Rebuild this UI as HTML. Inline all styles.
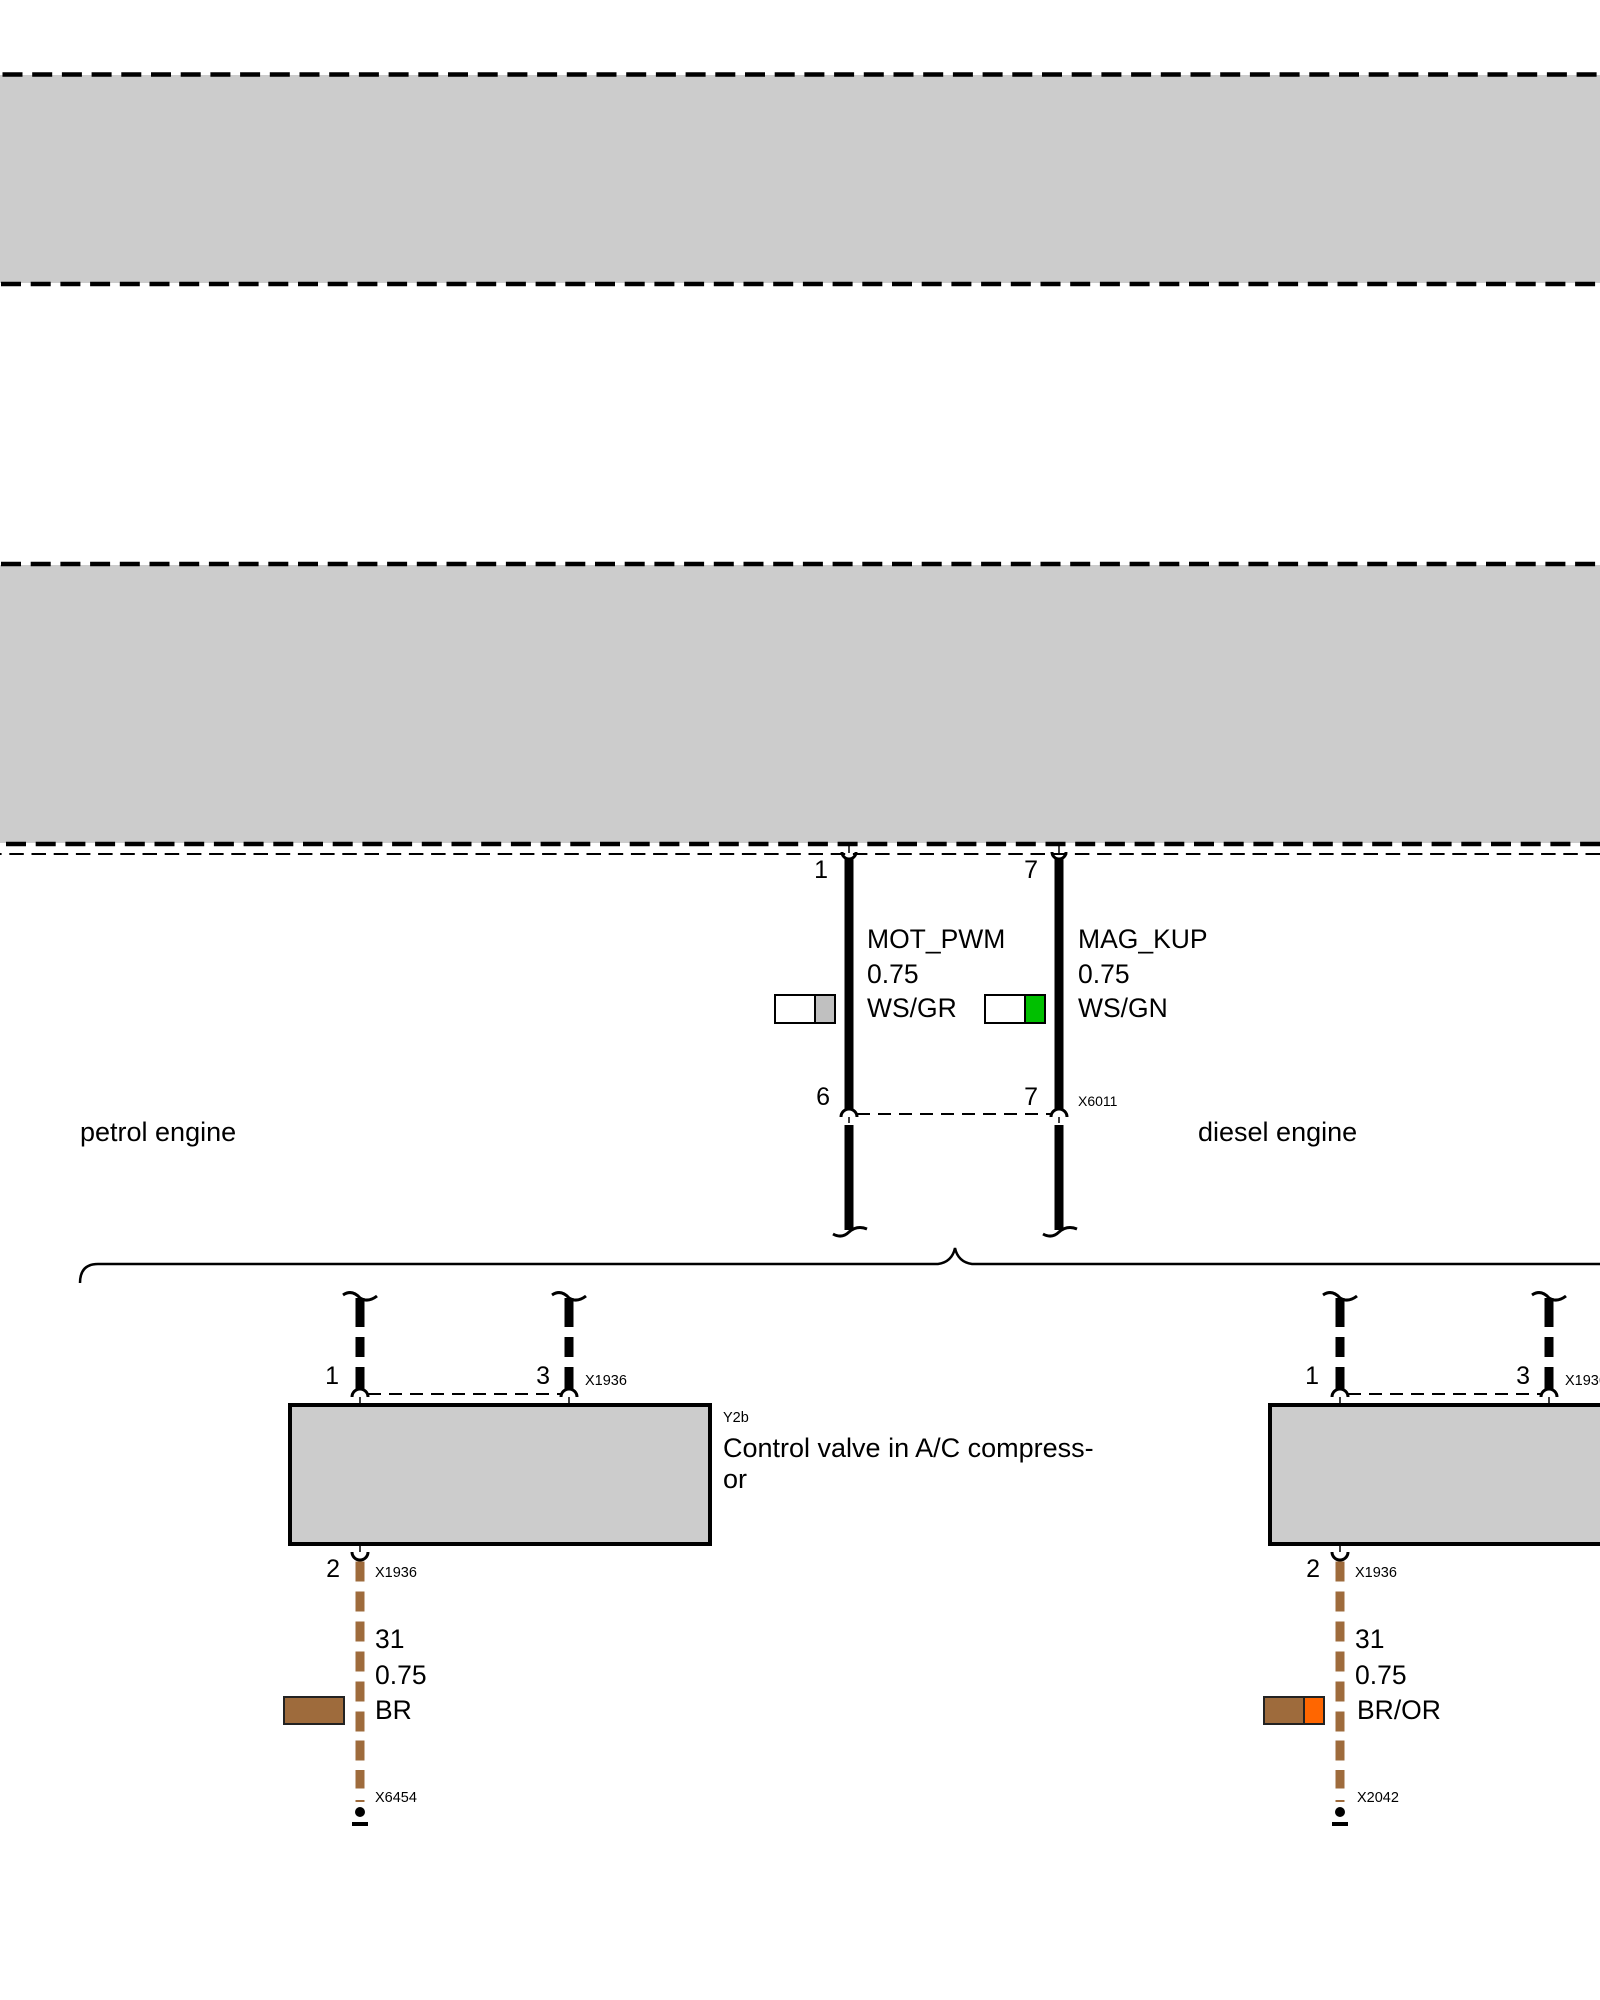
<!DOCTYPE html>
<html>
<head>
<meta charset="utf-8">
<style>
html,body{margin:0;padding:0;background:#fff;}
svg{display:block;}
text{font-family:"Liberation Sans",Arial,sans-serif;fill:#000;}
</style>
</head>
<body>
<svg width="1600" height="2000" viewBox="0 0 1600 2000" xmlns="http://www.w3.org/2000/svg">
  <defs>
    <g id="comp">
      <!-- top wire squiggles -->
      <path d="M343,1295 Q352,1289 360,1298 Q368,1303 377,1296" fill="none" stroke="#000" stroke-width="3"/>
      <rect x="355.5" y="1298" width="9" height="29" fill="#000"/>
      <rect x="355.5" y="1337" width="9" height="20" fill="#000"/>
      <rect x="355.5" y="1367" width="9" height="22" fill="#000"/>
      <path d="M552,1295 Q561,1289 569,1298 Q577,1303 586,1296" fill="none" stroke="#000" stroke-width="3"/>
      <rect x="564.5" y="1298" width="9" height="29" fill="#000"/>
      <rect x="564.5" y="1337" width="9" height="20" fill="#000"/>
      <rect x="564.5" y="1367" width="9" height="22" fill="#000"/>
      <!-- connectors top -->
      <path d="M352,1397 A8,8 0 0 1 368,1397" fill="none" stroke="#000" stroke-width="3"/>
      <path d="M561,1397 A8,8 0 0 1 577,1397" fill="none" stroke="#000" stroke-width="3"/>
      <line x1="368" y1="1394" x2="561" y2="1394" stroke="#000" stroke-width="2" stroke-dasharray="13,8"/>
      <line x1="360" y1="1397" x2="360" y2="1403" stroke="#000" stroke-width="1.5"/>
      <line x1="569" y1="1397" x2="569" y2="1403" stroke="#000" stroke-width="1.5"/>
      <!-- box -->
      <rect x="290" y="1405" width="420" height="139" fill="#cccccc" stroke="#000" stroke-width="4"/>
      <!-- bottom connector -->
      <line x1="360" y1="1546" x2="360" y2="1552" stroke="#000" stroke-width="1.5"/>
      <path d="M352,1552 A8,8 0 0 0 368,1552" fill="none" stroke="#000" stroke-width="3"/>
      <!-- brown dashed wire -->
      <g fill="#9e6b3c">
        <rect x="355.5" y="1561.5" width="9" height="20"/>
        <rect x="355.5" y="1591.5" width="9" height="20"/>
        <rect x="355.5" y="1621.5" width="9" height="20"/>
        <rect x="355.5" y="1651.5" width="9" height="20"/>
        <rect x="355.5" y="1681.5" width="9" height="20"/>
        <rect x="355.5" y="1711.5" width="9" height="20"/>
        <rect x="355.5" y="1740.5" width="9" height="20"/>
        <rect x="355.5" y="1770" width="9" height="18.5"/>
        <rect x="355.5" y="1800" width="9" height="2"/>
      </g>
      <circle cx="360" cy="1812" r="5" fill="#000"/>
      <rect x="352" y="1822" width="16" height="4" fill="#000"/>
      <!-- labels -->
      <text x="339" y="1384" font-size="25" text-anchor="end">1</text>
      <text x="550" y="1384" font-size="25" text-anchor="end">3</text>
      <text x="585" y="1385" font-size="14.5">X1936</text>
      <text x="340" y="1577" font-size="25" text-anchor="end">2</text>
      <text x="375" y="1577" font-size="14.5">X1936</text>
      <text x="375" y="1648" font-size="26.5">31</text>
      <text x="375" y="1684" font-size="26.5">0.75</text>
    </g>
  </defs>

  <!-- top band -->
  <rect x="0" y="75" width="1600" height="208" fill="#cccccc"/>
  <line x1="0" y1="74.5" x2="1600" y2="74.5" stroke="#000" stroke-width="4.5" stroke-dasharray="20,9.7" stroke-dashoffset="-2.5"/>
  <line x1="0" y1="284" x2="1600" y2="284" stroke="#000" stroke-width="4.5" stroke-dasharray="20,9.7" stroke-dashoffset="-1"/>

  <!-- second band -->
  <rect x="0" y="565" width="1600" height="278" fill="#cccccc"/>
  <line x1="0" y1="564" x2="1600" y2="564" stroke="#000" stroke-width="4.5" stroke-dasharray="20,9.7" stroke-dashoffset="-1"/>
  <line x1="0" y1="844" x2="1600" y2="844" stroke="#000" stroke-width="4.5" stroke-dasharray="20,9.7" stroke-dashoffset="-6"/>
  <line x1="0" y1="854" x2="1600" y2="854" stroke="#000" stroke-width="2" stroke-dasharray="14.5,7.7" stroke-dashoffset="-9.3"/>

  <!-- upper wires -->
  <g>
    <line x1="849" y1="846" x2="849" y2="853" stroke="#000" stroke-width="1.5"/>
    <path d="M842,852 A7,7 0 0 0 856,852" fill="none" stroke="#000" stroke-width="3"/>
    <rect x="844.5" y="858" width="9" height="252" fill="#000"/>
    <path d="M841,1117 A8,8 0 0 1 857,1117" fill="none" stroke="#000" stroke-width="3"/>
    <line x1="849" y1="1117" x2="849" y2="1123" stroke="#000" stroke-width="1.5"/>
    <rect x="844.5" y="1125" width="9" height="105" fill="#000"/>
    <path d="M833,1234 Q842,1239 849,1232 Q857,1225 867,1229" fill="none" stroke="#000" stroke-width="3"/>

    <line x1="1059" y1="846" x2="1059" y2="853" stroke="#000" stroke-width="1.5"/>
    <path d="M1052,852 A7,7 0 0 0 1066,852" fill="none" stroke="#000" stroke-width="3"/>
    <rect x="1054.5" y="858" width="9" height="252" fill="#000"/>
    <path d="M1051,1117 A8,8 0 0 1 1067,1117" fill="none" stroke="#000" stroke-width="3"/>
    <line x1="1059" y1="1117" x2="1059" y2="1123" stroke="#000" stroke-width="1.5"/>
    <rect x="1054.5" y="1125" width="9" height="105" fill="#000"/>
    <path d="M1043,1234 Q1052,1239 1059,1232 Q1067,1225 1077,1229" fill="none" stroke="#000" stroke-width="3"/>

    <line x1="857" y1="1114" x2="1051" y2="1114" stroke="#000" stroke-width="2" stroke-dasharray="13,8"/>
  </g>

  <!-- upper labels -->
  <text x="828" y="878" font-size="25" text-anchor="end">1</text>
  <text x="1038" y="878" font-size="25" text-anchor="end">7</text>
  <text x="830" y="1105" font-size="25" text-anchor="end">6</text>
  <text x="1038" y="1105" font-size="25" text-anchor="end">7</text>
  <text x="1078" y="1106" font-size="14">X6011</text>

  <text x="867" y="948" font-size="26.5">MOT_PWM</text>
  <text x="867" y="983" font-size="26.5">0.75</text>
  <text x="867" y="1017" font-size="26.5">WS/GR</text>
  <text x="1078" y="948" font-size="26.5">MAG_KUP</text>
  <text x="1078" y="983" font-size="26.5">0.75</text>
  <text x="1078" y="1017" font-size="26.5">WS/GN</text>

  <!-- color keys -->
  <rect x="775" y="995" width="40" height="28" fill="#fff" stroke="#000" stroke-width="2"/>
  <rect x="815" y="995" width="20" height="28" fill="#c0c0c0" stroke="#000" stroke-width="2"/>
  <rect x="985" y="995" width="40" height="28" fill="#fff" stroke="#000" stroke-width="2"/>
  <rect x="1025" y="995" width="20" height="28" fill="#00c000" stroke="#000" stroke-width="2"/>

  <text x="80" y="1141" font-size="27">petrol engine</text>
  <text x="1198" y="1141" font-size="27">diesel engine</text>

  <!-- bracket -->
  <path d="M80,1283 Q80,1264 98,1264 L938,1264 Q952,1262 955,1248 Q958,1262 972,1264 L1600,1264" fill="none" stroke="#000" stroke-width="2.5"/>

  <!-- left component -->
  <use href="#comp"/>
  <rect x="284" y="1697" width="60" height="27" fill="#9e6b3c" stroke="#222" stroke-width="2"/>
  <text x="375" y="1719" font-size="26.5">BR</text>
  <text x="375" y="1802" font-size="14.5">X6454</text>
  <text x="723" y="1422" font-size="14.5">Y2b</text>
  <text x="723" y="1457" font-size="27">Control valve in A/C compress-</text>
  <text x="723" y="1488" font-size="27">or</text>

  <!-- right component -->
  <use href="#comp" transform="translate(980,0)"/>
  <rect x="1264" y="1697" width="40" height="27" fill="#9e6b3c" stroke="#222" stroke-width="2"/>
  <rect x="1304" y="1697" width="20" height="27" fill="#ff6600" stroke="#222" stroke-width="2"/>
  <text x="1357" y="1719" font-size="26.5">BR/OR</text>
  <text x="1357" y="1802" font-size="14.5">X2042</text>
</svg>
</body>
</html>
